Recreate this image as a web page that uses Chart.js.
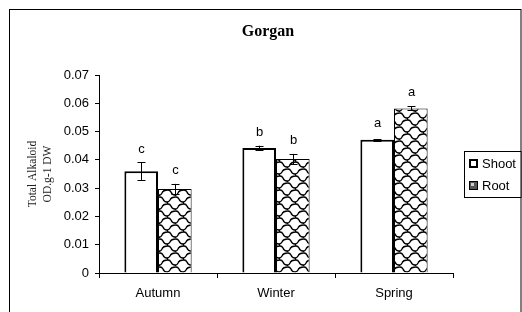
<!DOCTYPE html>
<html>
<head>
<meta charset="utf-8">
<script src="https://cdn.jsdelivr.net/npm/chart.js"></script>
<style>
  body { margin: 0; background: #fff; }
  canvas { display: block; }
</style>
</head>
<body>
<canvas id="mychart" width="522" height="312"></canvas>
<script>
// データ
const categories = ['Autumn', 'Winter', 'Spring'];
const shootValues = [0.0360, 0.0442, 0.0471];
const rootValues = [0.0297, 0.0403, 0.0582];
const shootErrors = [0.0031, 0.0008, 0.0003];
const rootErrors = [0.0018, 0.0018, 0.0007];
const shootLetters = ['c', 'b', 'a'];
const rootLetters = ['c', 'b', 'a'];
const yTicks = [0, 0.01, 0.02, 0.03, 0.04, 0.05, 0.06, 0.07];
const yTickLabels = ['0', '0.01', '0.02', '0.03', '0.04', '0.05', '0.06', '0.07'];

// うろこ模様のパターン
function makeShingle() {
  let c = document.createElement('canvas');
  c.width = 16;
  c.height = 14;
  let g = c.getContext('2d');
  g.fillStyle = '#fff';
  g.fillRect(0, 0, 16, 14);
  g.strokeStyle = '#000';
  g.lineWidth = 1.4;
  g.lineCap = 'round';
  g.beginPath();
  // 上の段
  g.moveTo(0, 1);
  g.quadraticCurveTo(2, 1, 3, 3);
  g.quadraticCurveTo(4, 6, 7, 6);
  g.quadraticCurveTo(9, 6, 10, 4);
  g.quadraticCurveTo(11, 1, 16, 1);
  // 下の段（半分ずらし）
  g.moveTo(8, 8);
  g.quadraticCurveTo(10, 8, 11, 10);
  g.quadraticCurveTo(12, 13, 15, 13);
  g.lineTo(16, 13);
  g.moveTo(0, 13);
  g.quadraticCurveTo(1, 13, 2, 11);
  g.quadraticCurveTo(3, 8, 8, 8);
  // 縦のつなぎ
  g.moveTo(7, 6); g.lineTo(8, 8);
  g.moveTo(15, 13); g.lineTo(16, 15);
  g.moveTo(-1, -1); g.lineTo(0, 1);
  g.stroke();
  return g.createPattern(c, 'repeat');
}

let ctx = document.getElementById('mychart');
let shingle = makeShingle();

// 枠・タイトル・エラーバー・凡例
const extras = {
  id: 'extras',
  beforeDraw(chart) {
    let c = chart.ctx;
    c.save();
    c.fillStyle = '#fff';
    c.fillRect(0, 0, chart.width, chart.height);
    c.strokeStyle = '#000';
    c.lineWidth = 1;
    c.strokeRect(9.5, 9.5, 511.5, 320);
    c.fillStyle = '#000';
    c.font = 'bold 16px "Liberation Serif", "Times New Roman", serif';
    c.textAlign = 'center';
    c.textBaseline = 'middle';
    c.fillText('Gorgan', 268, 32);
    c.restore();
  },
  afterDatasetsDraw(chart) {
    let c = chart.ctx;
    let y = chart.scales.y;
    let sets = [[shootValues, shootErrors, shootLetters], [rootValues, rootErrors, rootLetters]];
    c.save();
    c.strokeStyle = '#000';
    c.fillStyle = '#000';
    c.lineWidth = 1;
    c.font = '13px "Liberation Sans", Arial, sans-serif';
    c.textAlign = 'center';
    c.textBaseline = 'middle';
    sets.forEach((s, di) => {
      let meta = chart.getDatasetMeta(di);
      meta.data.forEach((bar, i) => {
        let x = Math.round(bar.x) + 0.5;
        let top = y.getPixelForValue(s[0][i] + s[1][i]);
        let bot = y.getPixelForValue(s[0][i] - s[1][i]);
        c.beginPath();
        c.moveTo(x, top); c.lineTo(x, bot);
        c.moveTo(x - 4, Math.round(top) + 0.5); c.lineTo(x + 4, Math.round(top) + 0.5);
        c.moveTo(x - 4, Math.round(bot) + 0.5); c.lineTo(x + 4, Math.round(bot) + 0.5);
        c.stroke();
        c.fillText(s[2][i], x, Math.min(top - 13, bar.y - 16));
      });
    });
    // 凡例
    c.fillStyle = '#fff';
    c.fillRect(464.5, 151.5, 56.5, 46);
    c.strokeRect(464.5, 151.5, 56.5, 46);
    c.lineWidth = 2;
    c.strokeRect(470, 160, 7, 7);
    c.fillStyle = '#555';
    c.fillRect(469.5, 181.5, 8, 8);
    c.fillStyle = '#ccc';
    c.fillRect(471, 183, 3, 3);
    c.lineWidth = 1;
    c.strokeRect(469.5, 181.5, 8, 8);
    c.fillStyle = '#000';
    c.textAlign = 'left';
    c.fillText('Shoot', 482, 164);
    c.fillText('Root', 482, 186);
    c.restore();
  }
};

let myChart = new Chart(ctx, {
  type: 'bar',
  data: {
    labels: categories,
    datasets: [{
      label: 'Shoot',
      data: shootValues,
      backgroundColor: '#fff',
      borderColor: '#000',
      borderWidth: 2,
    }, {
      label: 'Root',
      data: rootValues,
      backgroundColor: shingle,
      borderColor: '#000',
      borderWidth: 1,
    }],
  },
  options: {
    responsive: false,
    animation: false,
    devicePixelRatio: 1,
    layout: { padding: { left: 0, right: 69, top: 75, bottom: 0 } },
    datasets: { bar: { categoryPercentage: 0.57, barPercentage: 1 } },
    plugins: {
      legend: { display: false },
      title: { display: false },
      tooltip: { enabled: false },
    },
    scales: {
      x: {
        afterFit: (s) => { s.height = 39; },
        grid: { offset: true, drawOnChartArea: false, tickLength: 5, color: '#000' },
        border: { display: true, color: '#000', width: 1 },
        ticks: { color: '#000', padding: 8, font: { family: '"Liberation Sans", Arial, sans-serif', size: 13 } },
      },
      y: {
        min: 0,
        max: 0.07,
        afterFit: (s) => { s.width = 99; },
        afterBuildTicks: (s) => { s.ticks = yTicks.map((v) => ({ value: v })); },
        grid: { drawOnChartArea: false, tickLength: 4, color: '#000' },
        border: { display: true, color: '#000', width: 1 },
        ticks: {
          color: '#000',
          padding: 6,
          font: { family: '"Liberation Sans", Arial, sans-serif', size: 13 },
          callback: (v, i) => yTickLabels[i],
        },
        title: {
          display: true,
          text: ['Total Alkaloid', 'OD.g-1 DW'],
          color: '#222',
          font: { family: '"Liberation Serif", "Times New Roman", serif', size: 11.5, lineHeight: 1.25 },
          padding: { top: 26, bottom: 0 },
        },
      },
    },
  },
  plugins: [extras],
});
</script>
</body>
</html>
